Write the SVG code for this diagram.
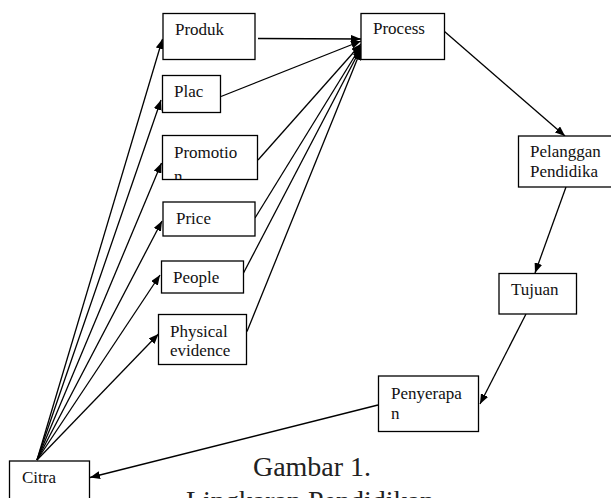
<svg xmlns="http://www.w3.org/2000/svg" width="611" height="498" viewBox="0 0 611 498">
<style>
.box{fill:#fff;stroke:#000;stroke-width:1.3}
text{font-family:"Liberation Serif","Times New Roman",serif;font-size:17px;fill:#111}
.cap{font-size:28px;fill:#222;text-anchor:middle}
.con line{stroke:#000;stroke-width:1.3;fill:none}
</style>
<defs>
<marker id="ah" viewBox="0 0 10 8" refX="10" refY="4" markerWidth="10" markerHeight="8" markerUnits="userSpaceOnUse" orient="auto">
<path d="M0,0 L10,4 L0,8 Z" fill="#000"/>
</marker>
<clipPath id="cpPromo"><rect x="162" y="135" width="96" height="44"/></clipPath>
</defs>
<g class="con">
<line x1="37" y1="460" x2="162.5" y2="39" marker-end="url(#ah)"/>
<line x1="37" y1="460" x2="161" y2="100" marker-end="url(#ah)"/>
<line x1="37" y1="460" x2="161.5" y2="163" marker-end="url(#ah)"/>
<line x1="37" y1="460" x2="162" y2="221" marker-end="url(#ah)"/>
<line x1="37" y1="460" x2="160" y2="275" marker-end="url(#ah)"/>
<line x1="37" y1="460" x2="158.5" y2="334" marker-end="url(#ah)"/>
<line x1="258" y1="38.5" x2="361" y2="39" marker-end="url(#ah)"/>
<line x1="221" y1="96.5" x2="361" y2="41" marker-end="url(#ah)"/>
<line x1="258" y1="160" x2="361" y2="44" marker-end="url(#ah)"/>
<line x1="255" y1="218" x2="361" y2="46" marker-end="url(#ah)"/>
<line x1="243.5" y1="273" x2="361" y2="48" marker-end="url(#ah)"/>
<line x1="247" y1="331.5" x2="361" y2="50" marker-end="url(#ah)"/>
<line x1="444.5" y1="31.5" x2="565" y2="136" marker-end="url(#ah)"/>
<line x1="566" y1="187" x2="535" y2="273" marker-end="url(#ah)"/>
<line x1="526" y1="314" x2="480" y2="404" marker-end="url(#ah)"/>
<line x1="378" y1="405" x2="90" y2="477.5" marker-end="url(#ah)"/>
</g>
<g id="produk"><rect class="box" x="163" y="13.5" width="92" height="46"/><text x="175" y="35">Produk</text></g>
<g id="plac"><rect class="box" x="162.5" y="75.5" width="58" height="37"/><text x="174" y="97">Plac</text></g>
<g id="promotion"><rect class="box" x="162.5" y="135.5" width="95" height="44"/><g clip-path="url(#cpPromo)"><text x="174" y="158">Promotio</text><text x="174" y="182">n</text></g></g>
<g id="price"><rect class="box" x="163" y="202" width="92" height="34"/><text x="176" y="224">Price</text></g>
<g id="people"><rect class="box" x="161.5" y="261" width="82" height="32"/><text x="173" y="283">People</text></g>
<g id="physical"><rect class="box" x="158.5" y="314.5" width="88" height="50"/><text x="170" y="337">Physical</text><text x="170" y="355.5">evidence</text></g>
<g id="citra"><rect class="box" x="9.5" y="461" width="80" height="45"/><text x="22" y="482.5">Citra</text></g>
<g id="process"><rect class="box" x="361" y="13.5" width="83.5" height="46"/><text x="373" y="34">Process</text></g>
<g id="pelanggan"><rect class="box" x="518.5" y="136" width="96" height="51"/><text x="530" y="157">Pelanggan</text><text x="530" y="176.5">Pendidika</text></g>
<g id="tujuan"><rect class="box" x="499" y="273.5" width="77.5" height="40.5"/><text x="511" y="295">Tujuan</text></g>
<g id="penyerapan"><rect class="box" x="378.5" y="376" width="100" height="55.5"/><text x="391" y="399">Penyerapa</text><text x="391" y="418.5">n</text></g>
<text class="cap" x="312" y="476">Gambar 1.</text>
<text class="cap" x="310" y="510">Lingkaran Pendidikan</text>
</svg>
